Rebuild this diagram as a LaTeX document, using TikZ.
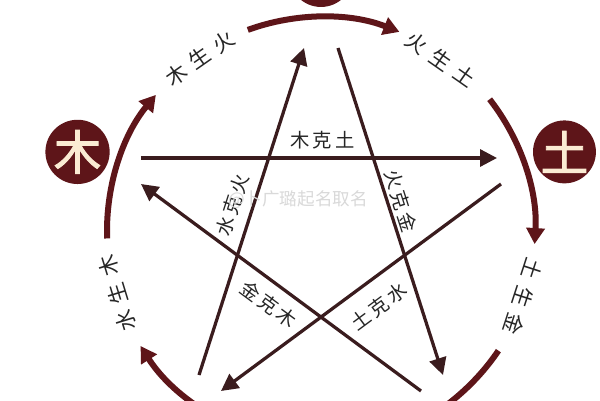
\documentclass[tikz,border=0pt]{standalone}
\usepackage{fontspec}
\newfontfamily\cjk{Noto Sans CJK SC}
\newfontfamily\cjkke[LetterSpace=15]{Noto Sans CJK SC}
\newfontfamily\cjksheng[LetterSpace=38]{Noto Sans CJK SC}
\newfontfamily\cjkbold[FakeBold=2]{Noto Sans CJK SC}
\usetikzlibrary{arrows.meta}
\definecolor{wxred}{HTML}{5E1519}
\definecolor{wxline}{HTML}{3A1C1E}
\definecolor{wxcream}{HTML}{FBEBD3}
\begin{document}
\begin{tikzpicture}[x=0.02cm, y=0.02cm,
    elem/.style={circle, fill=wxred, minimum size=1.2cm, inner sep=0pt, text=wxcream, font=\cjkbold\fontsize{27}{27}\selectfont},
    sheng/.style={wxred, line width=0.12cm, -{Triangle[length=0.32cm, width=0.36cm]}},
    shengtxt/.style={inner sep=0pt, text=black!85, font=\cjksheng\fontsize{12}{13}\selectfont},
    ke/.style={wxline, line width=0.065cm, -{Triangle[length=0.34cm, width=0.34cm]}},
    ketxt/.style={sloped, inner sep=0pt, text=black!85, font=\cjkke\fontsize{11}{12}\selectfont},
  ]
  \useasboundingbox (0,0) rectangle (600,400);
  \clip (0,0) rectangle (600,400);
  \fill[white] (0,0) rectangle (600,400);
  \begin{scope}[shift={(321,169)}]
    % the five elements
    \node[elem] (huo) at (90:256) {火};
    \node[elem] (mu) at (162:256) {木};
    \node[elem] (shui) at (234:256) {水};
    \node[elem] (jin) at (306:256) {金};
    \node[elem] (tu) at (18:256) {土};
    % outer ring
    \draw[sheng] (182:214) arc[start angle=182, end angle=140.5, radius=214];
    \draw[sheng] (110:214) arc[start angle=110, end angle=68.5, radius=214];
    \draw[sheng] (38:214) arc[start angle=38, end angle=-3.5, radius=214];
    \draw[sheng] (-34:214) arc[start angle=-34, end angle=-75.5, radius=214];
    \draw[sheng] (-106:214) arc[start angle=-106, end angle=-147.5, radius=214];
    \node[shengtxt, rotate=35] (mu2huo) at (125:211) {木生火};
    \node[shengtxt, rotate=-35] (huo2tu) at (55:209) {火生土};
    \node[shengtxt, rotate=-108] (tu2jin) at (-18:213) {土生金};
    \node[shengtxt, rotate=107] (shui2mu) at (197:213) {水生木};
    % the star
    \coordinate (muA) at (-180,73);
    \coordinate (tuB) at (176,73);
    \coordinate (tuA) at (180,47);
    \coordinate (shuiB) at (-100,-160);
    \coordinate (jinA) at (100,-160);
    \coordinate (muB) at (-180,47);
    \coordinate (shuiA) at (-122,-144);
    \coordinate (huoB) at (-17,183);
    \coordinate (huoA) at (17,183);
    \coordinate (jinB) at (122,-144);
    \draw[ke] (muA) -- node[ketxt, pos=0.51, above=0.15cm] (muketu) {木克土} (tuB);
    \draw[ke] (tuA) -- node[ketxt, pos=0.49, below=0.31cm] (tukeshui) {土克水} (shuiB);
    \draw[ke] (jinA) -- node[ketxt, pos=0.5, below=0.2cm] (jinkemu) {金克木} (muB);
    \draw[ke] (shuiA) -- node[ketxt, pos=0.5, above=0.19cm] (shuikehuo) {水克火} (huoB);
    \draw[ke] (huoA) -- node[ketxt, pos=0.48, above=0.05cm] (huokejin) {火克金} (jinB);
    \node[text=black!15, font=\cjk\fontsize{10}{10}\selectfont] (mark) at (-23,31) {@卜广璐起名取名};
  \end{scope}
\end{tikzpicture}
\end{document}
